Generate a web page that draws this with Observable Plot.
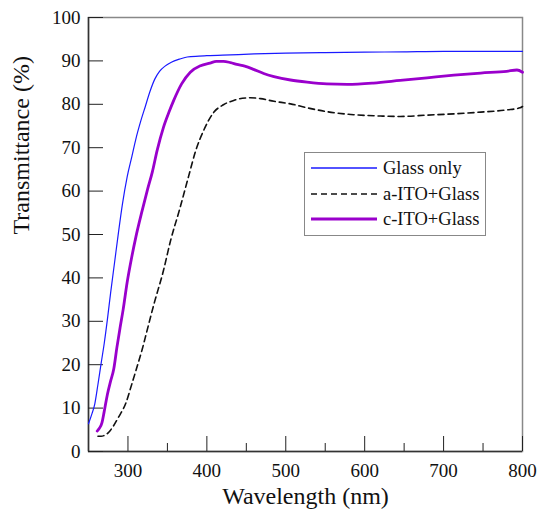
<!DOCTYPE html>
<html>
<head>
<meta charset="utf-8">
<script src="https://cdn.jsdelivr.net/npm/d3@7"></script>
<script src="https://cdn.jsdelivr.net/npm/@observablehq/plot@0.6"></script>
<style>
  body { margin: 0; background: #fff; }
  #wrap { position: relative; width: 539px; height: 510px; }
  #wrap svg text { font-family: "Liberation Serif", "Times New Roman", serif; }
  #legend {
    position: absolute; left: 304px; top: 152px; width: 182px; height: 84px;
    border: 1px solid #888; background: #fff; box-sizing: border-box;
    font-family: "Liberation Serif", "Times New Roman", serif; font-size: 18.5px; color: #111;
  }
  .row { position: absolute; left: 6px; height: 20px; display: flex; align-items: center; }
  .row svg { width: 66px; height: 6px; margin-right: 6px; }
</style>
</head>
<body>
<div id="wrap"></div>
<script>
const seriesNames = ["Glass only", "a-ITO+Glass", "c-ITO+Glass"];
const seriesColors = ["#1a1aff", "#111111", "#9a00cc"];
const xTicks = [300, 400, 500, 600, 700, 800];
const xMinorTicks = [350, 450, 550, 650, 750];
const yTicks = [0, 10, 20, 30, 40, 50, 60, 70, 80, 90, 100];

const glassOnly = [[250,6.4],[254,8.5],[258,11],[262,15.5],[266,20.3],[270,25],[274,30.5],[278,36.5],[283,43.5],[288,50.5],[293,57],[299,63.3],[305,68],[310,72],[316,76],[322,79.5],[328,83],[334,85.8],[340,87.6],[347,88.8],[355,89.7],[365,90.4],[375,90.9],[390,91.1],[400,91.2],[430,91.4],[460,91.6],[500,91.8],[550,91.9],[600,92.0],[650,92.1],[700,92.2],[750,92.2],[800,92.2]];
const aITO = [[262,3.5],[266,3.5],[270,3.7],[276,4.5],[282,6],[288,7.9],[297,11],[305,15.6],[312,19.8],[318,23.5],[322,26.3],[333,34],[345,41.7],[354,48.6],[365,55.5],[377,63.5],[386,69.4],[396,74],[409,78.2],[421,79.9],[434,80.9],[445,81.4],[455,81.5],[468,81.3],[485,80.7],[506,80.1],[527,79.2],[552,78.3],[586,77.6],[620,77.3],[645,77.2],[679,77.5],[713,77.8],[747,78.2],[780,78.7],[797,79.2],[800,79.5]];
const cITO = [[261,4.7],[264,5.4],[267,6.6],[270,9.3],[274,13.2],[278,16.2],[282,19],[286,24],[290,28.5],[294,32.8],[299,39],[305,45],[310,49.4],[318,55.5],[325,60.5],[331,64.5],[337,69.4],[345,74.7],[352,78.2],[358,80.9],[368,84.7],[379,87.4],[392,88.9],[404,89.5],[412,89.9],[421,89.9],[430,89.6],[438,89.2],[448,88.8],[460,88.0],[472,87.1],[485,86.4],[506,85.6],[527,85.1],[552,84.7],[578,84.6],[611,84.9],[645,85.5],[679,86.1],[713,86.7],[747,87.2],[780,87.6],[793,87.9],[800,87.4]];

const font = '"Liberation Serif", "Times New Roman", serif';
const chart = Plot.plot({
  width: 539, height: 510,
  marginLeft: 88, marginRight: 17, marginTop: 17, marginBottom: 59,
  style: { fontFamily: font, fontSize: "19px", background: "#fff", color: "#111" },
  x: { domain: [250, 800] },
  y: { domain: [0, 100] },
  marks: [
    Plot.frame({ stroke: "#888", strokeWidth: 1.5 }),
    Plot.ruleX([250], { stroke: "#333", strokeWidth: 1.5 }),
    Plot.ruleY([0], { stroke: "#333", strokeWidth: 1.5 }),
    Plot.axisX(xTicks, { tickSize: -15, tickPadding: 27, fontSize: 19, label: null, stroke: "#222" }),
    Plot.axisX(xMinorTicks, { tickSize: -8, text: null, label: null, stroke: "#222" }),
    Plot.axisY(yTicks, { tickSize: -15, tickPadding: 23, fontSize: 19, label: null, stroke: "#222" }),
    Plot.line(glassOnly, { x: d => d[0], y: d => d[1], stroke: seriesColors[0], strokeWidth: 1.2, curve: "monotone-x" }),
    Plot.line(aITO, { x: d => d[0], y: d => d[1], stroke: seriesColors[1], strokeWidth: 1.6, strokeDasharray: "6,4", curve: "monotone-x" }),
    Plot.line(cITO, { x: d => d[0], y: d => d[1], stroke: seriesColors[2], strokeWidth: 2.8, curve: "monotone-x" }),
    Plot.text(["Transmittance (%)"], { frameAnchor: "left", dx: -67, rotate: -90, fontSize: 24, fill: "#111" }),
    Plot.text(["Wavelength (nm)"], { frameAnchor: "bottom", dy: 52, lineAnchor: "bottom", fontSize: 24, fill: "#111" })
  ]
});
const wrap = document.getElementById("wrap");
wrap.appendChild(chart);

const legend = document.createElement("div");
legend.id = "legend";
const dashes = ["", "6,4", ""];
const widths = [1.5, 1.6, 2.8];
const tops = [5, 31, 56];
seriesNames.forEach((name, i) => {
  const row = document.createElement("div");
  row.className = "row";
  row.style.top = tops[i] + "px";
  row.innerHTML = `<svg viewBox="0 0 66 6"><line x1="0" y1="3" x2="66" y2="3" stroke="${seriesColors[i]}" stroke-width="${widths[i]}" ${dashes[i] ? `stroke-dasharray="${dashes[i]}"` : ""}/></svg><span>${name}</span>`;
  legend.appendChild(row);
});
wrap.appendChild(legend);
</script>
</body>
</html>
